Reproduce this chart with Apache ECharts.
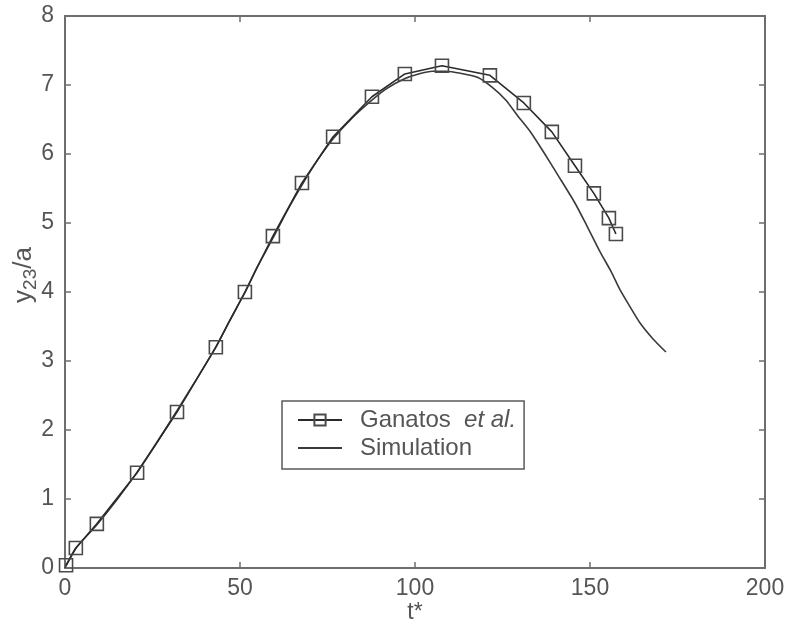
<!DOCTYPE html>
<html>
<head>
<meta charset="utf-8">
<script src="https://cdn.jsdelivr.net/npm/echarts@6/dist/echarts.min.js"></script>
<style>
  html, body { margin: 0; padding: 0; background: #fff; }
  #chart { width: 789px; height: 632px; }
</style>
</head>
<body>
<div id="chart"></div>
<script>
// Ganatos et al. reference points (t*, y23/a)
const ganatosT = [0.3, 3.1, 9.1, 20.6, 32.0, 43.1, 51.4, 59.4, 67.7, 76.6, 87.7, 97.1, 107.7, 121.4, 131.1, 139.1, 145.7, 151.1, 155.4, 157.4];
const ganatosY = [0.04, 0.29, 0.64, 1.38, 2.26, 3.20, 4.00, 4.81, 5.58, 6.25, 6.83, 7.16, 7.28, 7.14, 6.74, 6.32, 5.83, 5.43, 5.07, 4.84];

// Simulation trajectory (t*, y23/a)
const simT = [0, 3, 9, 15, 20.6, 26, 32, 38, 43.1, 47, 51.4, 55, 59.4, 63.5, 67.7, 72, 76.6, 82, 87.7, 92, 97, 101, 105, 109, 113, 118, 122, 126, 129.1, 133, 136.6, 141, 145.7, 149, 153, 156, 158.6, 161.5, 164.3, 168, 171.7];
const simY = [0, 0.28, 0.62, 1.0, 1.39, 1.8, 2.28, 2.77, 3.2, 3.58, 3.99, 4.37, 4.78, 5.18, 5.55, 5.9, 6.22, 6.52, 6.78, 6.95, 7.09, 7.16, 7.2, 7.2, 7.17, 7.11, 6.97, 6.78, 6.57, 6.32, 6.04, 5.68, 5.29, 4.97, 4.57, 4.3, 4.03, 3.78, 3.55, 3.32, 3.13];

// Axis ticks
const xTicks = [0, 50, 100, 150, 200];
const yTicks = [0, 1, 2, 3, 4, 5, 6, 7, 8];

const seriesNames = ['Ganatos et al.', 'Simulation'];

const zip = (a, b) => a.map((v, i) => [v, b[i]]);

const axisColor = '#6e6e6e';
const textColor = '#555';
const fontFamily = '"Liberation Sans", Arial, sans-serif';

const chart = echarts.init(document.getElementById('chart'), null, { renderer: 'canvas' });

const tickStyle = { show: true, inside: true, length: 6, lineStyle: { color: axisColor, width: 1.5 } };
const lineStyleAxis = { show: true, onZero: false, lineStyle: { color: axisColor, width: 2 } };

const baseX = {
  type: 'value',
  min: xTicks[0],
  max: xTicks[xTicks.length - 1],
  interval: xTicks[1] - xTicks[0],
  splitLine: { show: false },
  axisLine: lineStyleAxis,
  axisTick: tickStyle
};
const baseY = {
  type: 'value',
  min: yTicks[0],
  max: yTicks[yTicks.length - 1],
  interval: yTicks[1] - yTicks[0],
  splitLine: { show: false },
  axisLine: lineStyleAxis,
  axisTick: tickStyle
};

chart.setOption({
  backgroundColor: '#fff',
  animation: false,
  textStyle: { fontFamily },
  grid: { left: 65, right: 24, top: 16, bottom: 64, outerBoundsMode: 'none', containLabel: false },
  xAxis: [
    Object.assign({}, baseX, {
      position: 'bottom',
      name: 't*',
      nameLocation: 'middle',
      nameGap: 33,
      nameMoveOverlap: false,
      nameTextStyle: { color: textColor, fontSize: 23, fontFamily },
      axisLabel: { color: textColor, fontSize: 23, margin: 9, fontFamily }
    }),
    Object.assign({}, baseX, {
      position: 'top',
      axisLabel: { show: false }
    })
  ],
  yAxis: [
    Object.assign({}, baseY, {
      position: 'left',
      name: '{m|y}{s|23}{m|/a}',
      nameLocation: 'middle',
      nameGap: 25,
      nameMoveOverlap: false,
      nameRotate: 90,
      nameTextStyle: {
        color: textColor,
        fontFamily,
        padding: [0, 0, 0, 34],
        rich: {
          m: { fontSize: 26, color: textColor, fontFamily },
          s: { fontSize: 19, color: textColor, fontFamily, padding: [13, 0, 0, 0] }
        }
      },
      axisLabel: { color: textColor, fontSize: 23, margin: 11, fontFamily }
    }),
    Object.assign({}, baseY, {
      position: 'right',
      axisLabel: { show: false }
    })
  ],
  legend: {
    left: 282,
    top: 401,
    orient: 'vertical',
    data: [
      { name: seriesNames[0] },
      { name: seriesNames[1], itemStyle: { opacity: 0 } }
    ],
    padding: [6, 8, 8, 15],
    itemGap: 2,
    itemWidth: 44,
    itemHeight: 14,
    borderColor: '#5a5a5a',
    borderWidth: 1.5,
    backgroundColor: '#fff',
    selectedMode: false,
    textStyle: {
      color: textColor,
      fontSize: 24,
      lineHeight: 26,
      fontFamily,
      padding: [0, 0, 0, 13],
      rich: {
        n: { fontSize: 24, lineHeight: 26, color: textColor, fontFamily },
        i: { fontSize: 24, lineHeight: 26, color: textColor, fontFamily, fontStyle: 'italic' }
      }
    },
    formatter: function (name) {
      if (name === seriesNames[0]) return '{n|Ganatos  }{i|et al.}';
      return name;
    }
  },
  series: [
    {
      name: seriesNames[0],
      type: 'line',
      xAxisIndex: 0,
      yAxisIndex: 0,
      data: zip(ganatosT, ganatosY),
      symbol: 'rect',
      symbolSize: 13,
      showAllSymbol: true,
      z: 3,
      lineStyle: { color: '#2a2a2a', width: 1.6 },
      itemStyle: { color: 'rgba(255,255,255,0)', borderColor: '#4a4a4a', borderWidth: 1.6 }
    },
    {
      name: seriesNames[1],
      type: 'line',
      xAxisIndex: 0,
      yAxisIndex: 0,
      data: zip(simT, simY),
      smooth: 0.2,
      showSymbol: false,
      symbol: 'none',
      z: 2,
      lineStyle: { color: '#3a3a3a', width: 1.6 },
      itemStyle: { color: '#3a3a3a' }
    }
  ]
});
</script>
</body>
</html>
